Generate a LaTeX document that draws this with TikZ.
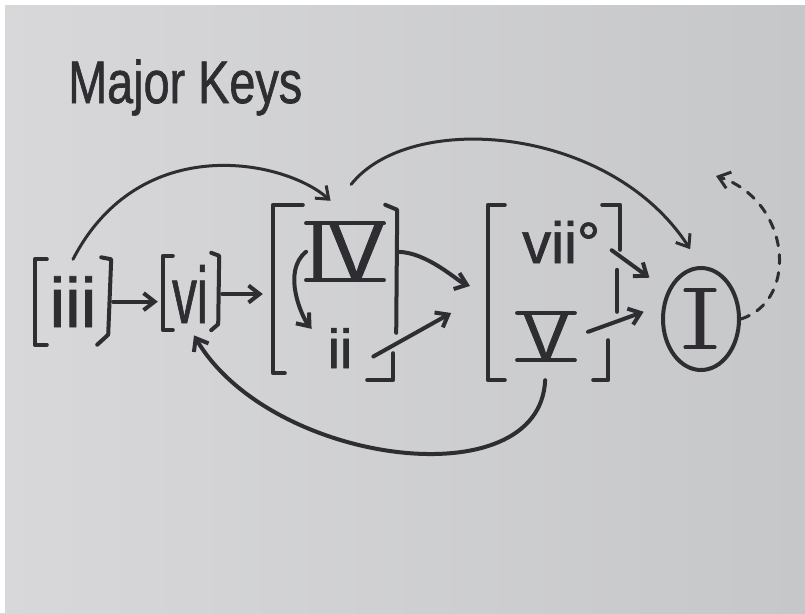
\documentclass[tikz,border=0pt]{standalone}
\usepackage{fontspec}
\setmainfont{Liberation Sans}
\newfontfamily\handfont{Liberation Sans}[FakeBold=1.2]
\usetikzlibrary{arrows.meta,shapes.geometric,calc}
\definecolor{ink}{RGB}{46,46,50}
\definecolor{paperA}{RGB}{216,216,218}
\definecolor{paperB}{RGB}{198,199,201}
\begin{document}
\begin{tikzpicture}[x=1pt,y=-1pt,
  stroke/.style={draw=ink, line width=4pt, line cap=round, line join=round},
  thinstroke/.style={draw=ink, line width=3pt, line cap=round, line join=round},
  tip/.style={-{Straight Barb[length=11pt,width=17pt]}},
  lbl/.style={text=ink, inner sep=0pt, font=\handfont},
  grp/.style={inner sep=0pt}
]
% paper
\useasboundingbox (0,0) rectangle (805,613);
\shade[left color=paperA, right color=paperB] (0,0) rectangle (805,613);
\fill[white] (0,0) rectangle (5,613);
\fill[white] (0,0) rectangle (805,5);

% title
\node[lbl, anchor=base west] (title) at (68,103) {\fontsize{60}{70}\selectfont\scalebox{0.78}[1]{Major Keys}};

% groups
\node[grp, minimum width=76, minimum height=85] (Giii) at (73,302) {};
\node[grp, minimum width=56, minimum height=74] (Gvi) at (191,293) {};
\node[grp, minimum width=124, minimum height=175] (G1) at (335,292.5) {};
\node[grp, minimum width=132, minimum height=175] (G2) at (554,292.5) {};

% brackets
\draw[stroke] ($(Giii.north west)+(12,0)$) -- (Giii.north west) -- (Giii.south west) -- ($(Giii.south west)+(12,0)$);
\draw[stroke] ($(Giii.north east)+(-10,-2)$) -- (Giii.north east) -- ($(Giii.south east)+(-3,-10)$) -- ($(Giii.south east)+(-14,0)$);
\draw[stroke] ($(Gvi.north west)+(10,0)$) -- (Gvi.north west) -- (Gvi.south west) -- ($(Gvi.south west)+(10,0)$);
\draw[stroke] ($(Gvi.north east)+(-8,-3)$) -- (Gvi.north east) -- ($(Gvi.south east)+(-1,-6)$) -- ($(Gvi.south east)+(-8,0)$);
\draw[stroke] ($(G1.north west)+(30,0)$) -- (G1.north west) -- ($(G1.south west)+(0,-7)$) -- ($(G1.south west)+(12,-7)$);
\draw[stroke] ($(G1.north east)+(-12,0)$) -- ($(G1.north east)+(0,5)$) -- ($(G1.north east)+(-1,128)$);
\draw[stroke] ($(G1.south east)+(-4,-27)$) -- ($(G1.south east)+(-4,0)$) -- ($(G1.south east)+(-30,0)$);
\draw[stroke] ($(G2.north west)+(17,0)$) -- (G2.north west) -- (G2.south west) -- ($(G2.south west)+(17,0)$);
\draw[stroke] ($(G2.north east)+(-18,0)$) -- (G2.north east) -- ($(G2.north east)+(0,45)$);
\draw[stroke] ($(G2.north east)+(-3,65)$) -- ($(G2.north east)+(-3,107)$);
\draw[stroke] ($(G2.south east)+(-12,-40)$) -- ($(G2.south east)+(-12,0)$) -- ($(G2.south east)+(-27,0)$);

% chord labels
\node[lbl, anchor=base] (iii) at (73,327) {\fontsize{70}{80}\selectfont iii};
\node[lbl, anchor=base] (vi) at (190,323) {\fontsize{80}{90}\selectfont\scalebox{0.62}[1]{vi}};
\node[lbl, anchor=base] (IV) at (345,280) {\fontsize{82}{90}\selectfont IV};
\node[lbl, anchor=base] (ii) at (340,368) {\fontsize{55}{60}\selectfont ii};
\node[lbl, anchor=base west] (vii) at (522,263) {\fontsize{58}{64}\selectfont vii°};
\node[lbl, anchor=base, inner xsep=6pt] (V) at (546,360) {\fontsize{68}{74}\selectfont V};
\node[ellipse, stroke, minimum width=76, minimum height=102, inner sep=0pt] (Icirc) at (701,319) {};
\node[lbl, anchor=base, inner xsep=3pt] (I) at (700,347) {\fontsize{82}{90}\selectfont I};

% numeral bars
\draw[stroke] (IV.north west) -- (IV.north east);
\draw[stroke] (IV.south west) -- (IV.south east);
\draw[stroke] (V.north west) -- (V.north east);
\draw[stroke] (V.south west) -- (V.south east);
\draw[stroke] (I.north west) -- (I.north east);
\draw[stroke] (I.south west) -- (I.south east);

% connectors
\draw[stroke, tip, shorten <=2pt, shorten >=5pt] (Giii.east |- iii) -- (Gvi.west |- iii);
\draw[stroke, tip, shorten <=3pt, shorten >=10pt] (Gvi.east |- vi) -- (G1.west |- vi);
\draw[stroke, tip, shorten >=25pt] (IV.west) .. controls +(-25,20) and +(-25,-30) .. (ii.west);
\draw[stroke, tip, shorten >=19pt] (G1.east |- IV) .. controls +(30,0) and +(-30,-11) .. (G2.west);
\draw[stroke, tip, shorten <=24pt, shorten >=42pt] (ii.south east) -- (G2.west);
\draw[stroke, tip, shorten <=14pt, shorten >=22pt] (vii.east) -- (Icirc.140);
\draw[stroke, tip, shorten <=14pt, shorten >=20pt] (V.east) -- (Icirc.160);
\draw[thinstroke, tip, shorten >=6pt] (Giii.north) .. controls (140,130) and (285,160) .. (G1.north);
\draw[thinstroke, tip, shorten <=26pt, shorten >=20pt] (G1.north) .. controls (410,110) and (610,125) .. (Icirc.north);
\draw[stroke, tip, shorten <=20pt, shorten >=6pt] (V.south) .. controls (540,500) and (270,465) .. (Gvi.south);
\coordinate (back) at (716,176);
\draw[thinstroke, dash pattern=on 9pt off 9pt, tip] (Icirc.east) .. controls (800,300) and (790,200) .. (back);
\end{tikzpicture}
\end{document}
